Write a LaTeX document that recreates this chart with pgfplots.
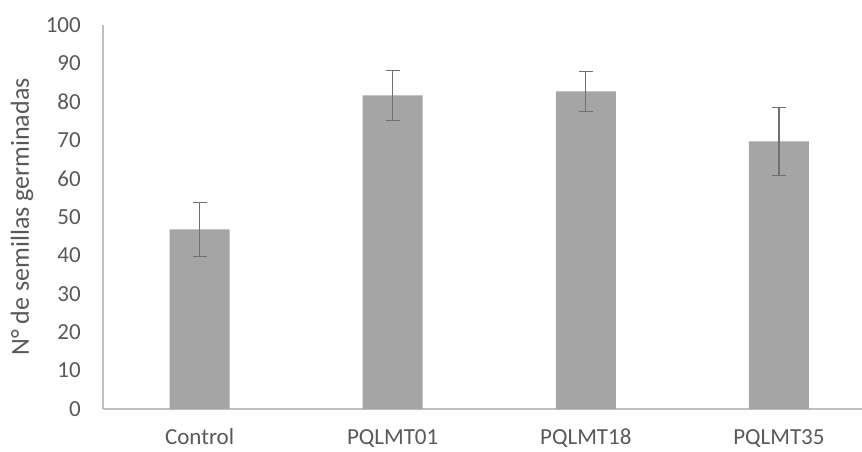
\documentclass[border=0pt]{standalone}
\usepackage{pgfplots}
\pgfplotsset{compat=1.18}
\usepackage{fontspec}
\setmainfont{Carlito}
\definecolor{barc}{HTML}{A5A5A5}
\definecolor{axc}{HTML}{BFBFBF}
\definecolor{txt}{HTML}{595959}
\definecolor{errc}{HTML}{707070}
\begin{document}
\begin{tikzpicture}[x=1pt,y=1pt]
\useasboundingbox (0,0) rectangle (862,451);
\begin{axis}[
  at={(103pt,42pt)}, anchor=south west,
  scale only axis, width=759pt, height=384pt,
  xmin=-0.5, xmax=3.43, ymin=0, ymax=100,
  ytick={0,10,...,100},
  xtick={0,1,2,3},
  xticklabels={Control,PQLMT01,PQLMT18,PQLMT35},
  axis x line*=bottom, axis y line*=left,
  axis line style={axc, line width=1.2pt, -},
  major tick length=0pt,
  tick style={draw=none},
  ticklabel style={font=\fontsize{23}{26}\selectfont, text=txt, inner sep=0pt},
  /pgf/number format/assume math mode=true,
  yticklabel style={anchor=east, xshift=-22pt},
  xticklabel style={anchor=base, yshift=-35pt},
  ylabel={N° de semillas germinadas},
  ylabel style={font=\fontsize{26}{29}\selectfont, text=txt, at={(axis description cs:-0.1067,0.5)}, anchor=center},
  clip=false,
]
\addplot[ybar, bar width=60pt, fill=barc, draw=none,
  error bars/.cd, y dir=both, y explicit,
  error bar style={errc, line width=1.1pt},
  error mark options={errc, line width=1.1pt, mark size=7pt, rotate=90}]
  coordinates {(0,46.8) +- (0,7.0) (1,81.7) +- (0,6.5) (2,82.7) +- (0,5.2) (3,69.7) +- (0,8.8)};
\end{axis}
\end{tikzpicture}
\end{document}
